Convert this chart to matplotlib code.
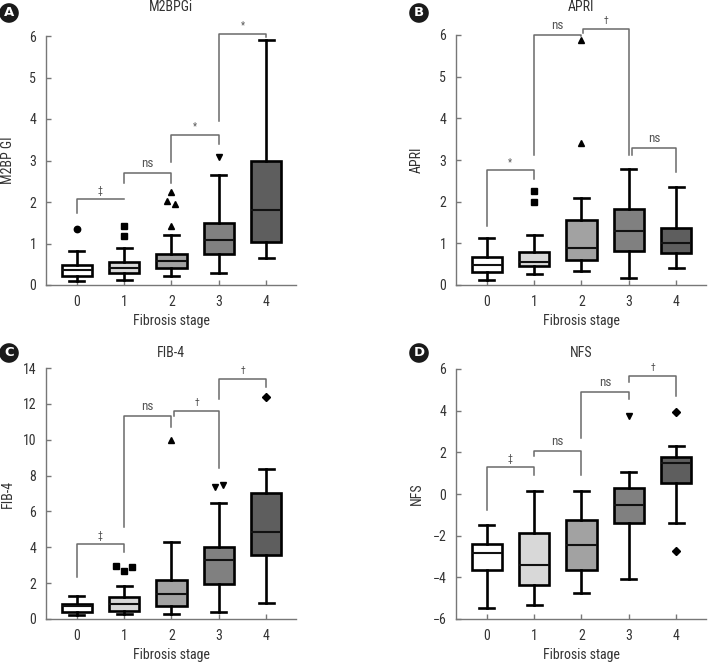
import matplotlib
matplotlib.use("Agg")
import matplotlib.pyplot as plt
from matplotlib import font_manager

names = {f.name for f in font_manager.fontManager.ttflist}
FAM = 'DejaVu Sans'
for cand in ['Roboto Condensed', 'Barlow Condensed', 'Archivo Narrow', 'Asap Condensed']:
    if cand in names:
        FAM = cand
        break
plt.rcParams['font.family'] = [FAM, 'DejaVu Sans']

stages = [0, 1, 2, 3, 4]
stage_labels = ['0', '1', '2', '3', '4']
box_colors = ['#ffffff', '#d8d8d8', '#a2a2a2', '#808080', '#5e5e5e']
flier_markers = ['o', 's', '^', 'v', 'D']

# ---- A: M2BPGi ----
m2_whislo = [0.10, 0.13, 0.22, 0.30, 0.64]
m2_q1 = [0.22, 0.30, 0.42, 0.75, 1.03]
m2_med = [0.36, 0.42, 0.59, 1.09, 1.80]
m2_q3 = [0.47, 0.55, 0.74, 1.49, 2.99]
m2_whishi = [0.83, 0.90, 1.20, 2.65, 5.90]
m2_fliers = [[1.34], [1.43, 1.19], [2.23, 2.02, 1.96, 1.42], [3.09], []]
m2_brackets = [(0, 1, 2.07, 1.73, 2.07, '‡'), (1, 2, 2.69, 2.45, 2.45, 'ns'),
               (2, 3, 3.62, 2.96, 3.40, '*'), (3, 4, 6.06, 3.96, 5.97, '*')]

# ---- B: APRI ----
ap_whislo = [0.13, 0.27, 0.34, 0.18, 0.42]
ap_q1 = [0.31, 0.45, 0.60, 0.82, 0.77]
ap_med = [0.47, 0.55, 0.88, 1.29, 1.01]
ap_q3 = [0.67, 0.80, 1.56, 1.82, 1.38]
ap_whishi = [1.12, 1.21, 2.08, 2.78, 2.35]
ap_fliers = [[], [2.25, 2.00], [3.42, 5.89], [], []]
ap_brackets = [(0, 1, 2.75, 1.42, 2.55, '*'), (1, 2, 6.01, 3.12, 5.97, 'ns'),
               (2.04, 3, 6.15, 6.06, 3.12, '†'), (3.06, 4, 3.30, 3.12, 2.72, 'ns')]

# ---- C: FIB-4 ----
fb_whislo = [0.24, 0.28, 0.28, 0.39, 0.89]
fb_q1 = [0.37, 0.43, 0.71, 1.93, 3.57]
fb_med = [0.71, 0.82, 1.41, 3.31, 4.83]
fb_q3 = [0.86, 1.23, 2.17, 4.00, 7.01]
fb_whishi = [1.28, 1.86, 4.29, 6.49, 8.35]
fb_fliers = [[], [2.94, 2.66, 2.92], [10.0], [7.36, 7.47], [12.38]]
fb_brackets = [(0, 1, 4.20, 2.34, 3.74, '‡'), (1, 2, 11.30, 5.13, 10.71, 'ns'),
               (2.06, 3, 11.60, 11.30, 8.44, '†'), (3, 4, 13.36, 12.25, 12.94, '†')]

# ---- D: NFS ----
nf_whislo = [-5.47, -5.34, -4.74, -4.06, -1.39]
nf_q1 = [-3.63, -4.38, -3.66, -1.39, 0.53]
nf_med = [-2.82, -3.42, -2.43, -0.53, 1.50]
nf_q3 = [-2.40, -1.86, -1.26, 0.30, 1.79]
nf_whishi = [-1.49, 0.16, 0.16, 1.04, 2.29]
nf_fliers = [[], [], [], [3.74], [3.92, -2.72]]
nf_brackets = [(0, 1, 1.30, -0.78, 0.90, '‡'), (1, 2, 2.06, 1.81, 0.93, 'ns'),
               (2, 3, 4.90, 2.69, 4.58, 'ns'), (3, 4, 5.68, 5.38, 4.69, '†')]

panels = [
    dict(letter='A', title='M2BPGi', ylabel='M2BP GI', lo=m2_whislo, q1=m2_q1, med=m2_med, q3=m2_q3,
         hi=m2_whishi, fl=m2_fliers, br=m2_brackets, ylim=(0, 6), yt=[0, 1, 2, 3, 4, 5, 6]),
    dict(letter='B', title='APRI', ylabel='APRI', lo=ap_whislo, q1=ap_q1, med=ap_med, q3=ap_q3,
         hi=ap_whishi, fl=ap_fliers, br=ap_brackets, ylim=(0, 6), yt=[0, 1, 2, 3, 4, 5, 6]),
    dict(letter='C', title='FIB-4', ylabel='FIB-4', lo=fb_whislo, q1=fb_q1, med=fb_med, q3=fb_q3,
         hi=fb_whishi, fl=fb_fliers, br=fb_brackets, ylim=(0, 14), yt=[0, 2, 4, 6, 8, 10, 12, 14]),
    dict(letter='D', title='NFS', ylabel='NFS', lo=nf_whislo, q1=nf_q1, med=nf_med, q3=nf_q3,
         hi=nf_whishi, fl=nf_fliers, br=nf_brackets, ylim=(-6, 6), yt=[-6, -4, -2, 0, 2, 4, 6]),
]

W, H = 722, 662
fig = plt.figure(figsize=(W / 100, H / 100), dpi=100)
fig.patch.set_facecolor('white')

# axes rectangles in pixels: left, top, right, bottom
rects = [(46, 36, 296, 285), (456, 35, 706, 285), (46, 368, 296, 619), (456, 369, 706, 619)]
title_y = [7, 7, 353, 353]
letter_xy = [(9, 13), (419, 13), (9, 353), (419, 353)]
xlabel_y = [321, 321, 655, 655]
ylabel_x = [8, 417, 8, 417]

TXT = '#333333'
SP = '#777777'
BR = '#6a6a6a'

for k, p in enumerate(panels):
    l, t, r, b = rects[k]
    ax = fig.add_axes([l / W, 1 - b / H, (r - l) / W, (b - t) / H])
    stats = []
    for i in range(5):
        stats.append(dict(med=p['med'][i], q1=p['q1'][i], q3=p['q3'][i],
                          whislo=p['lo'][i], whishi=p['hi'][i], fliers=[]))
    bp = ax.bxp(stats, positions=stages, widths=0.64, patch_artist=True, showfliers=False,
                boxprops=dict(linewidth=1.9, edgecolor='black'),
                medianprops=dict(color='#111111', linewidth=1.5),
                whiskerprops=dict(color='black', linewidth=1.9),
                capprops=dict(color='black', linewidth=1.9), capwidths=0.32)
    for patch, c in zip(bp['boxes'], box_colors):
        patch.set_facecolor(c)
    # fliers, dodged automatically when consecutive values lie close together
    span = p['ylim'][1] - p['ylim'][0]
    for i, fl in enumerate(p['fl']):
        groups = []
        for v in fl:
            if groups and abs(v - groups[-1][-1]) < span * 0.03:
                groups[-1].append(v)
            else:
                groups.append([v])
        for g in groups:
            n = len(g)
            for j, v in enumerate(g):
                dx = (j - (n - 1) / 2) * 0.17 if n > 1 else 0
                ms = 4.6 if flier_markers[i] != 'D' else 4.2
                ax.plot(stages[i] + dx, v, marker=flier_markers[i], color='black', ms=ms,
                        linestyle='none', clip_on=False, zorder=4)
    # significance brackets
    for (a, c, yb, ya, yc, lab) in p['br']:
        ax.plot([a, a, c, c], [ya, yb, yb, yc], color=BR, lw=1.1, clip_on=False, zorder=3)
        fs = 9.5 if lab == 'ns' else 7
        ax.text((a + c) / 2, yb + span * 0.012, lab, ha='center', va='bottom', fontsize=fs,
                color='#555555', clip_on=False)
    ax.set_xlim(-0.65, 4.63)
    ax.set_ylim(*p['ylim'])
    ax.set_yticks(p['yt'])
    ax.set_xticks(stages)
    ax.set_xticklabels(stage_labels)
    for s in ['top', 'right']:
        ax.spines[s].set_visible(False)
    for s in ['left', 'bottom']:
        ax.spines[s].set_color(SP)
        ax.spines[s].set_linewidth(1.0)
    ax.tick_params(axis='both', colors=SP, labelcolor=TXT, labelsize=10, length=3.5, width=1.0,
                   direction='in', pad=7)
    ax.set_facecolor('white')
    cx = (l + r) / 2
    fig.text(cx / W, 1 - title_y[k] / H, p['title'], ha='center', va='center', fontsize=10, color=TXT)
    fig.text(cx / W, 1 - xlabel_y[k] / H, 'Fibrosis stage', ha='center', va='center', fontsize=10, color=TXT)
    fig.text(ylabel_x[k] / W, 1 - ((t + b) / 2) / H, p['ylabel'], ha='center', va='center', rotation=90,
             fontsize=10, color=TXT)
    lx, ly = letter_xy[k]
    fig.text(lx / W, 1 - ly / H, p['letter'], ha='center', va='center', fontsize=9.5, fontweight='bold',
             color='white', family='DejaVu Sans',
             bbox=dict(boxstyle='circle,pad=0.25', facecolor='#1a1a1a', edgecolor='none'))

fig.savefig('out.png', dpi=100, facecolor='white')
